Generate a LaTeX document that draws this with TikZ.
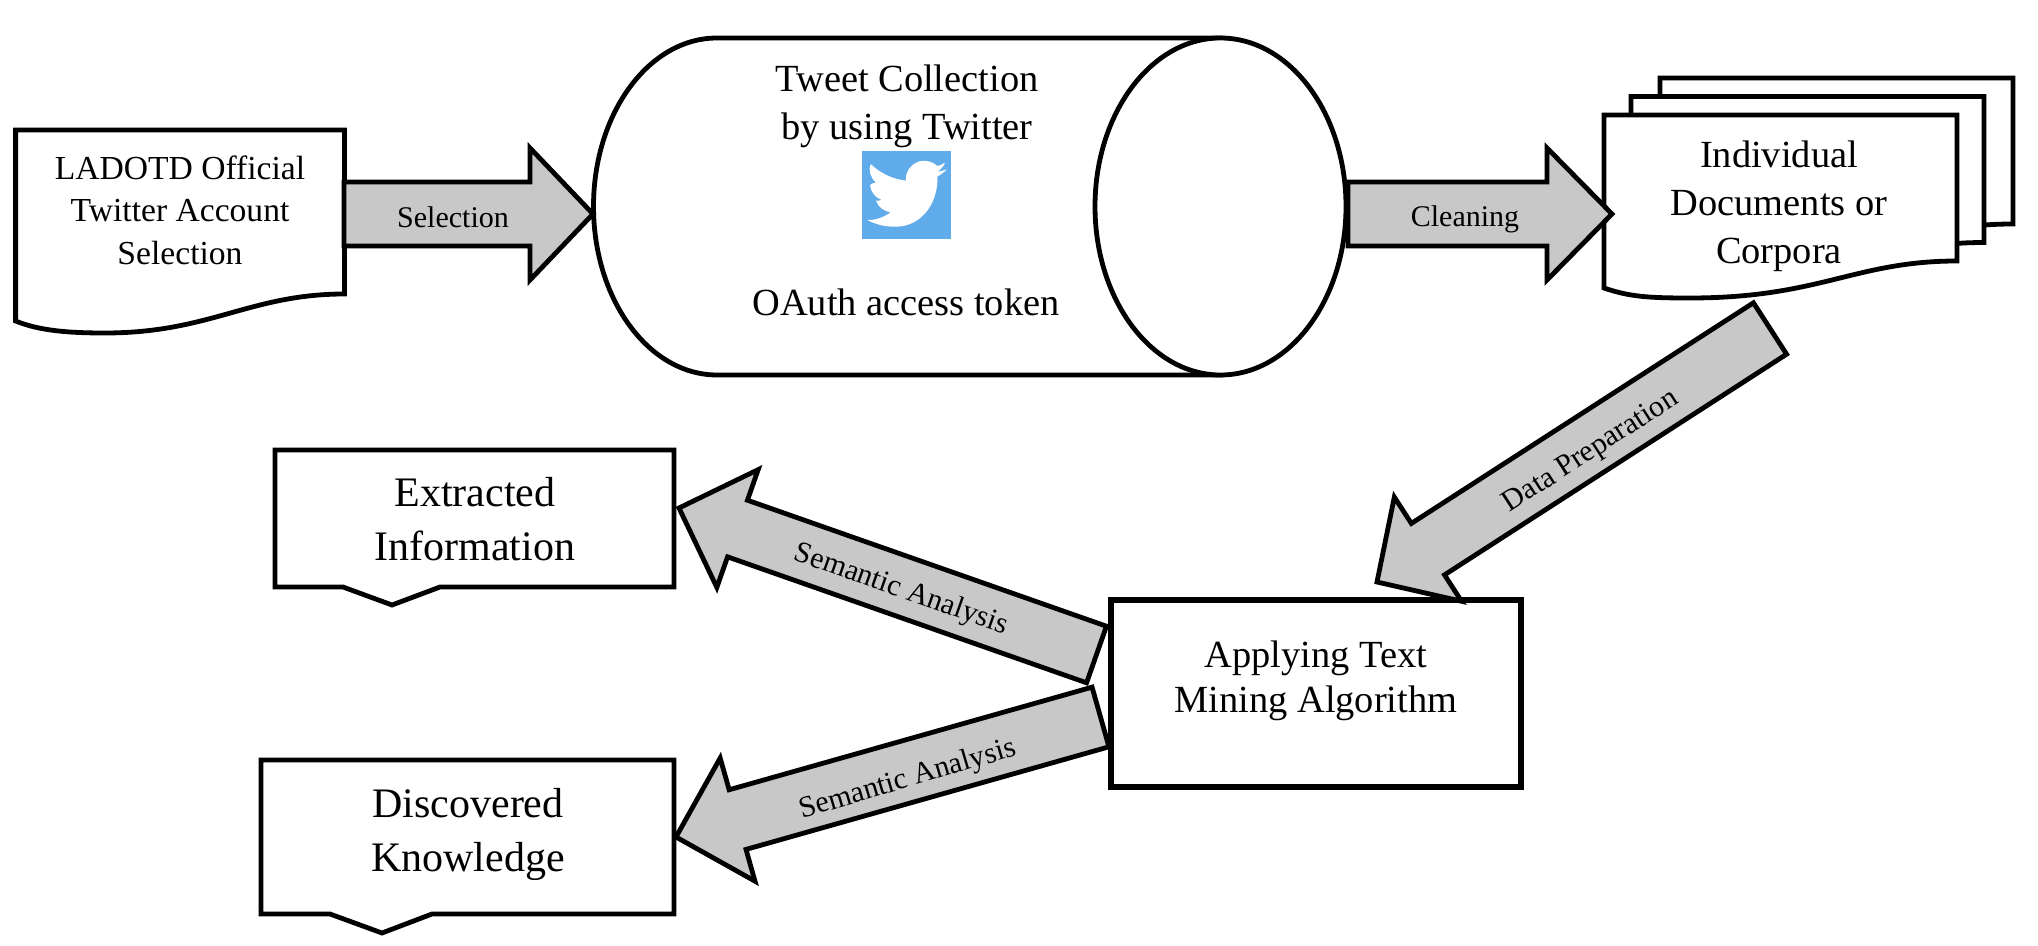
\documentclass[tikz,border=0pt]{standalone}
\usepackage{fontspec}
\setmainfont{Liberation Serif}
\usetikzlibrary{calc}
\definecolor{arrowgray}{HTML}{C8C8C8}
\definecolor{twblue}{HTML}{60ABE9}
\tikzset{
  outline/.style={draw=black,line width=2.4pt,fill=white,line join=miter},
  blockarrow/.style={draw=black,line width=2.4pt,fill=arrowgray,line join=miter},
  big/.style={inner sep=0pt,align=center,font=\fontsize{19.2}{24}\selectfont},
  docfont/.style={inner sep=0pt,align=center,font=\fontsize{16.8}{21.2}\selectfont},
  boxfont/.style={inner sep=0pt,align=center,font=\fontsize{21}{27}\selectfont},
  minefont/.style={inner sep=0pt,align=center,font=\fontsize{19.2}{22.5}\selectfont},
  arrowlabel/.style={inner sep=0pt,font=\fontsize{15}{15}\selectfont},
}
% tail coordinate, tip coordinate, shaft half width, head half width, head length (pt)
\newcommand{\blockarrowpath}[5]{%
  \coordinate (hb) at ($(#2)!#5!(#1)$);
  \draw[blockarrow]
    ($(#1)!#3!90:(#2)$) -- ($(hb)!#3!-90:(#1)$) -- ($(hb)!#4!-90:(#1)$) -- (#2)
    -- ($(hb)!#4!90:(#1)$) -- ($(hb)!#3!90:(#1)$) -- ($(#1)!#3!-90:(#2)$) -- cycle;
}
\begin{document}
\begin{tikzpicture}[x=0.5pt,y=-0.5pt]
\useasboundingbox (0,0) rectangle (2038,946);

% first document
\draw[outline] (15.6,130) -- (344.5,130) -- (344.5,294)
  .. controls (250,294) and (210,333) .. (105,333)
  .. controls (70,333) and (40,331) .. (15.6,321) -- cycle;
\node[docfont] (account) at (180,210) {LADOTD Official\\Twitter Account\\Selection};

% cylinder
\draw[outline] (717,38) -- (1220.5,38) -- (1220.5,375) -- (717,375)
  arc[start angle=270,end angle=90,x radius=61.75pt,y radius=84.25pt] -- cycle;
\draw[outline] (1220.5,206.5) ellipse[x radius=62.75pt,y radius=84.25pt];
\node[big] (collect) at (907,106) {Tweet Collection\\by using Twitter};
\node[big] (oauth) at (906,302) {OAuth access token};

% twitter icon
\node[fill=twblue,minimum width=44.5pt,minimum height=44pt,inner sep=0pt] (icon) at (906.5,195) {};
\begin{scope}[shift={(850,140)},xscale=0.3333,yscale=0.3333]
\fill[white] (285,68) .. controls (277,73) and (270,76) .. (262,78)
  .. controls (250,66) and (228,58) .. (205,65)
  .. controls (180,75) and (165,98) .. (168,122)
  .. controls (130,118) and (90,100) .. (62,72)
  .. controls (55,90) and (60,112) .. (78,128)
  .. controls (72,128) and (66,130) .. (60,135)
  .. controls (62,155) and (75,172) .. (95,180)
  .. controls (90,182) and (84,182) .. (78,182)
  .. controls (85,202) and (102,214) .. (122,217)
  .. controls (100,233) and (75,241) .. (52,240)
  .. controls (85,258) and (125,264) .. (160,258)
  .. controls (225,245) and (265,180) .. (262,110)
  .. controls (272,104) and (282,97) .. (290,88)
  .. controls (280,92) and (272,94) .. (262,95)
  .. controls (273,88) and (281,79) .. (285,68) -- cycle;
\end{scope}

% document stack
\begin{scope}[shift={(56,-37)}]
\draw[outline] (1604,115) -- (1957,115) -- (1957,261)
  .. controls (1855,261) and (1820,298) .. (1690,298)
  .. controls (1650,298) and (1630,297) .. (1604,288) -- cycle;
\end{scope}
\begin{scope}[shift={(27,-18.5)}]
\draw[outline] (1604,115) -- (1957,115) -- (1957,261)
  .. controls (1855,261) and (1820,298) .. (1690,298)
  .. controls (1650,298) and (1630,297) .. (1604,288) -- cycle;
\end{scope}
\draw[outline] (1604,115) -- (1957,115) -- (1957,261)
  .. controls (1855,261) and (1820,298) .. (1690,298)
  .. controls (1650,298) and (1630,297) .. (1604,288) -- cycle;
\node[big] (docs) at (1779,206.5) {Individual\\Documents or\\Corpora};

% result boxes
\draw[outline] (275,450) -- (674,450) -- (674,587) -- (440,587) -- (392,605) -- (343,587) -- (275,587) -- cycle;
\node[boxfont] (extracted) at (475,519) {Extracted\\Information};
\draw[outline] (261,760) -- (674,760) -- (674,914) -- (432,914) -- (382,933) -- (330,914) -- (261,914) -- cycle;
\node[boxfont] (discovered) at (468,834) {Discovered\\Knowledge};

% mining box
\node[draw=black,line width=2.7pt,fill=white,minimum width=205pt,minimum height=93.5pt,inner sep=0pt] (minebox) at (1316,693.5) {};
\node[minefont] (mine) at (1316,680.5) {Applying Text\\Mining Algorithm};

% block arrows
\coordinate (selTail) at (344,214);
\coordinate (selTip) at (593,214);
\blockarrowpath{selTail}{selTip}{16pt}{33pt}{31.5pt}
\node[arrowlabel] (selLabel) at (453,217) {Selection};

\coordinate (clnTail) at (1348,214);
\coordinate (clnTip) at (1612,214);
\blockarrowpath{clnTail}{clnTip}{16pt}{33pt}{32.5pt}
\node[arrowlabel] (clnLabel) at (1465,219) {Cleaning};

\coordinate (prepTail) at (1770,328.5);
\coordinate (prepTip) at (1377,582);
\blockarrowpath{prepTail}{prepTip}{15.3pt}{31pt}{30.3pt}
\node[arrowlabel,rotate=32.8] (prepLabel) at (1591,452) {Data Preparation};

\coordinate (semUTail) at (1096.5,654.5);
\coordinate (semUTip) at (679,508);
\blockarrowpath{semUTail}{semUTip}{15pt}{31.2pt}{31pt}
\node[arrowlabel,rotate=-19.4] (semULabel) at (901,590) {Semantic Analysis};

\coordinate (semLTail) at (1100.5,717);
\coordinate (semLTip) at (676,837);
\blockarrowpath{semLTail}{semLTip}{15.5pt}{32pt}{32pt}
\node[arrowlabel,rotate=16.5] (semLLabel) at (908,780) {Semantic Analysis};
\end{tikzpicture}
\end{document}
